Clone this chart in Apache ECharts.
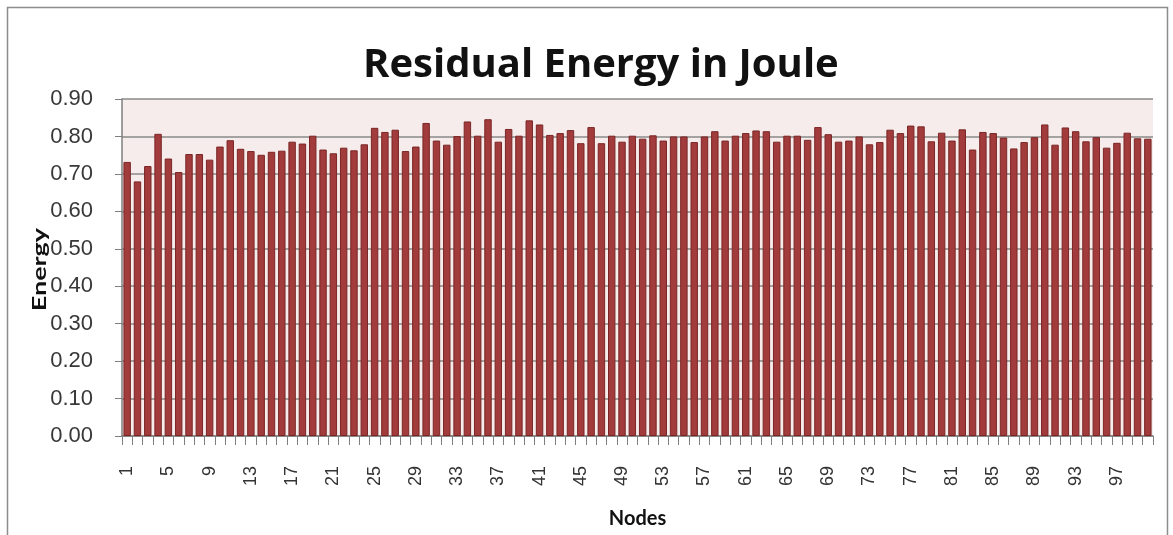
<!DOCTYPE html>
<html>
<head>
<meta charset="utf-8">
<script src="https://cdn.jsdelivr.net/npm/echarts@6/dist/echarts.min.js"></script>
<style>
  html, body { margin: 0; padding: 0; background: #ffffff; }
  #chart { width: 1173px; height: 535px; }
</style>
</head>
<body>
<div id="chart"></div>
<script>
// Node ids 1..100 along the x axis
const nodes = [
  1, 2, 3, 4, 5, 6, 7, 8, 9, 10,
  11, 12, 13, 14, 15, 16, 17, 18, 19, 20,
  21, 22, 23, 24, 25, 26, 27, 28, 29, 30,
  31, 32, 33, 34, 35, 36, 37, 38, 39, 40,
  41, 42, 43, 44, 45, 46, 47, 48, 49, 50,
  51, 52, 53, 54, 55, 56, 57, 58, 59, 60,
  61, 62, 63, 64, 65, 66, 67, 68, 69, 70,
  71, 72, 73, 74, 75, 76, 77, 78, 79, 80,
  81, 82, 83, 84, 85, 86, 87, 88, 89, 90,
  91, 92, 93, 94, 95, 96, 97, 98, 99, 100
];

// Residual energy (J) left in each node
const residualEnergy = [
  0.732, 0.680, 0.721, 0.807, 0.741, 0.705, 0.753, 0.753, 0.738, 0.773,
  0.790, 0.767, 0.761, 0.751, 0.759, 0.762, 0.786, 0.781, 0.802, 0.765,
  0.755, 0.770, 0.763, 0.779, 0.823, 0.812, 0.818, 0.761, 0.773, 0.836,
  0.789, 0.778, 0.801, 0.840, 0.802, 0.846, 0.786, 0.820, 0.802, 0.843,
  0.832, 0.804, 0.809, 0.817, 0.782, 0.825, 0.782, 0.802, 0.786, 0.802,
  0.794, 0.803, 0.789, 0.800, 0.800, 0.785, 0.800, 0.814, 0.789, 0.802,
  0.809, 0.816, 0.814, 0.786, 0.802, 0.802, 0.791, 0.825, 0.806, 0.786,
  0.789, 0.800, 0.779, 0.785, 0.818, 0.809, 0.829, 0.827, 0.787, 0.810,
  0.789, 0.819, 0.765, 0.812, 0.809, 0.797, 0.768, 0.785, 0.798, 0.832,
  0.778, 0.824, 0.814, 0.787, 0.798, 0.770, 0.783, 0.810, 0.795, 0.794
];

// Energy axis range
const yMin = 0.0;
const yMax = 0.9;
const yStep = 0.1;

const chartTitle = 'Residual Energy in Joule';
const xAxisName = 'Nodes';
const yAxisName = 'Energy';

const chart = echarts.init(document.getElementById('chart'), null, { renderer: 'canvas' });

chart.setOption({
  backgroundColor: '#ffffff',
  animation: false,
  title: {
    text: chartTitle,
    left: 358,
    top: 41,
    textStyle: {
      fontFamily: '"Open Sans", Lato, sans-serif',
      fontSize: 40,
      fontWeight: 'bold',
      color: '#111111'
    }
  },
  graphic: [
    {
      // outer chart frame
      type: 'rect',
      silent: true,
      z: -10,
      shape: { x: 7.5, y: 7.5, width: 1160, height: 560 },
      style: { fill: 'none', stroke: '#8c8c8c', lineWidth: 1.5 }
    },
    {
      // vertical axis title, stretched along its length
      type: 'text',
      x: 31,
      y: 228,
      rotation: Math.PI / 2,
      scaleX: 1.5,
      scaleY: 1,
      style: {
        text: yAxisName,
        font: 'bold 18px Lato, "Open Sans", sans-serif',
        fill: '#111111',
        textAlign: 'right',
        textVerticalAlign: 'top'
      }
    }
  ],
  grid: {
    left: 122,
    right: 20,
    top: 99,
    bottom: 99,
    show: true,
    backgroundColor: '#f7ecec',
    borderWidth: 0
  },
  xAxis: {
    type: 'category',
    data: nodes,
    name: xAxisName,
    nameLocation: 'middle',
    nameGap: 73,
    nameTextStyle: {
      fontFamily: 'Lato, "Open Sans", sans-serif',
      fontSize: 20,
      fontWeight: 'bold',
      color: '#111111'
    },
    axisLine: { lineStyle: { color: '#7f7f7f', width: 1.5 } },
    axisTick: { show: true, interval: 0, length: 9, lineStyle: { color: '#7f7f7f' } },
    axisLabel: {
      interval: 3,
      rotate: 90,
      margin: 30,
      fontFamily: '"Liberation Sans", Arial, sans-serif',
      fontSize: 18,
      color: '#333333'
    },
    splitLine: { show: false }
  },
  yAxis: {
    type: 'value',
    min: yMin,
    max: yMax,
    interval: yStep,
    axisLine: { show: true, lineStyle: { color: '#7f7f7f', width: 1.5 } },
    axisTick: { show: true, inside: false, length: 7, lineStyle: { color: '#7f7f7f' } },
    axisLabel: {
      margin: 29,
      fontFamily: '"Liberation Sans", Arial, sans-serif',
      fontSize: 22,
      color: '#383838',
      formatter: v => v.toFixed(2)
    },
    splitLine: { show: true, lineStyle: { color: '#8a8a8a', width: 1.5 } }
  },
  series: [
    {
      type: 'bar',
      data: residualEnergy,
      barCategoryGap: '28%',
      itemStyle: {
        color: '#a23b3b',
        borderColor: '#7a2626',
        borderWidth: 1
      },
      z: 3
    }
  ]
});
</script>
</body>
</html>
